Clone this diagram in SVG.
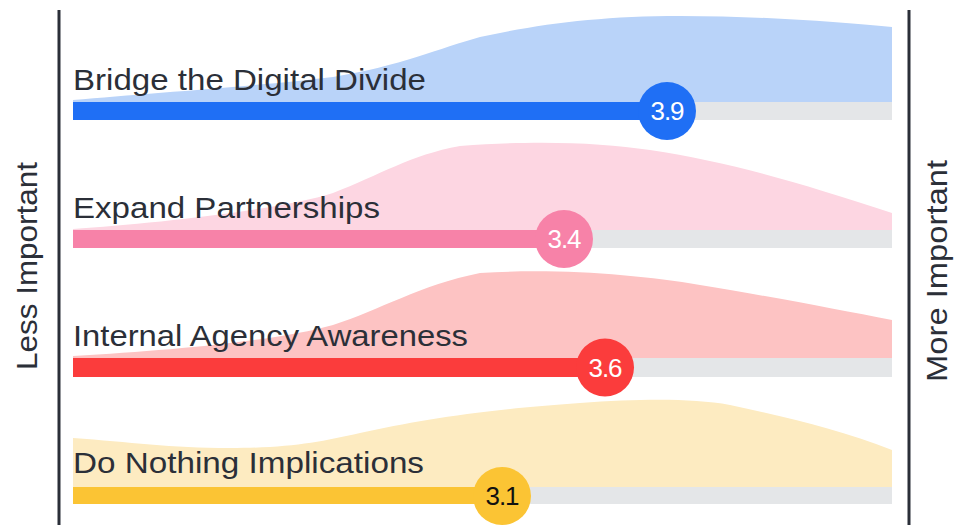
<svg xmlns="http://www.w3.org/2000/svg" width="955" height="525" viewBox="0 0 955 525">
<style>
.lbl{font-family:"Liberation Sans",Arial,sans-serif;font-size:30px;fill:#2b2f38}
.ax{font-family:"Liberation Sans",Arial,sans-serif;font-size:29px;fill:#2b2f38;text-anchor:middle}
.num{font-family:"Liberation Sans",Arial,sans-serif;font-size:26px;text-anchor:middle;letter-spacing:-1px}
.track{fill:#e4e6e8}
.axis{stroke:#2b2f38;stroke-width:3}
</style>
<rect width="955" height="525" fill="#ffffff"/>
<g id="axes">
<line class="axis" x1="59" y1="10" x2="59" y2="525"/>
<line class="axis" x1="909" y1="10" x2="909" y2="525"/>
<text class="ax" transform="translate(37,266) rotate(-90)" textLength="208" lengthAdjust="spacingAndGlyphs">Less Important</text>
<text class="ax" transform="translate(947,271) rotate(-90)" textLength="222" lengthAdjust="spacingAndGlyphs">More Important</text>
</g>
<g id="row-bridge">
<path d="M73,102 L73,100 C150,93 260,86 333,77 C400,66 440,48 480,37 C540,24 600,16 680,16 C760,16 840,22 892,27 L892,102 Z" fill="#b9d3f9"/>
<rect class="track" x="73" y="102" width="819" height="18"/>
<rect x="73" y="102" width="594" height="18" fill="#1f6ff5"/>
<text class="lbl" x="73" y="90" textLength="353" lengthAdjust="spacingAndGlyphs">Bridge the Digital Divide</text>
<circle cx="667" cy="111" r="29" fill="#1f6ff5"/>
<text class="num" x="667" y="120" fill="#ffffff">3.9</text>
</g>
<g id="row-expand">
<path d="M73,230 L73,229 C150,224 280,210 333,193 C380,175 410,155 460,146 C540,140 600,143 650,150 C730,162 800,183 892,213 L892,230 Z" fill="#fdd6e2"/>
<rect class="track" x="73" y="230" width="819" height="18"/>
<rect x="73" y="230" width="491" height="18" fill="#f782a8"/>
<text class="lbl" x="73" y="218" textLength="307" lengthAdjust="spacingAndGlyphs">Expand Partnerships</text>
<circle cx="564" cy="239" r="29" fill="#f782a8"/>
<text class="num" x="564" y="248" fill="#ffffff">3.4</text>
</g>
<g id="row-internal">
<path d="M73,358 L73,356 C180,350 280,340 333,325 C380,310 420,285 480,273 C560,268 640,275 700,285 C780,298 840,310 892,320 L892,358 Z" fill="#fdc3c3"/>
<rect class="track" x="73" y="358" width="819" height="19"/>
<rect x="73" y="358" width="532" height="19" fill="#fb3c3c"/>
<text class="lbl" x="73" y="346" textLength="395" lengthAdjust="spacingAndGlyphs">Internal Agency Awareness</text>
<circle cx="605" cy="367.5" r="29" fill="#fb3c3c"/>
<text class="num" x="605" y="376.5" fill="#ffffff">3.6</text>
</g>
<g id="row-nothing">
<path d="M73,487 L73,438 C130,442 170,448 230,448 C290,448 320,442 360,433 C420,420 480,410 580,403 C640,399 690,398 730,405 C790,418 840,430 892,450 L892,487 Z" fill="#fdebc1"/>
<rect class="track" x="73" y="487" width="819" height="17"/>
<rect x="73" y="487" width="429" height="17" fill="#fbc434"/>
<text class="lbl" x="73" y="473" textLength="351" lengthAdjust="spacingAndGlyphs">Do Nothing Implications</text>
<circle cx="502" cy="496" r="29" fill="#fbc434"/>
<text class="num" x="502" y="505" fill="#111111">3.1</text>
</g>
</svg>
